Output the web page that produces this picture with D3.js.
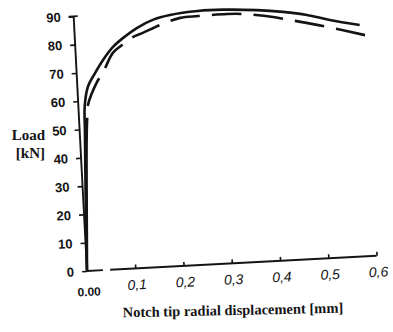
<!DOCTYPE html>
<html>
<head>
<meta charset="utf-8">
<script src="https://cdn.jsdelivr.net/npm/d3@7"></script>
<style>
  html, body { margin: 0; padding: 0; background: #fff; }
  svg { display: block; }
</style>
</head>
<body>
<svg id="chart" width="393" height="332"></svg>
<script>
// ---- data ----
const yTicks = [0, 10, 20, 30, 40, 50, 60, 70, 80, 90];
const yTickLabels = ["0", "10", "20", "30", "40", "50", "60", "70", "80", "90"];
const xTicks = [0.1, 0.2, 0.3, 0.4, 0.5, 0.6];
const xTickLabels = ["0,1", "0,2", "0,3", "0,4", "0,5", "0,6"];
const originLabel = "0.00";
const yTitle = ["Load", "[kN]"];
const xTitle = "Notch tip radial displacement [mm]";

const solidX  = [0, 0.001, 0.005, 0.011, 0.013, 0.022, 0.038, 0.056, 0.078, 0.100, 0.130, 0.163, 0.199, 0.257, 0.309, 0.380, 0.433, 0.482, 0.529, 0.590];
const solidY  = [0, 7, 25, 50, 58, 65, 69.6, 74.1, 78.5, 81.5, 84.8, 87.3, 88.7, 89.6, 89.6, 88.8, 87.7, 86.2, 84.0, 81.7];
const dashedX = [0, 0.002, 0.007, 0.013, 0.017, 0.020, 0.041, 0.055, 0.077, 0.097, 0.120, 0.141, 0.178, 0.220, 0.257, 0.317, 0.350, 0.412, 0.447, 0.514, 0.600];
const dashedY = [0, 7, 25, 45, 54, 58.5, 66.4, 69.8, 76.4, 79.0, 81.6, 82.9, 85.4, 87.5, 87.8, 88.0, 87.7, 86.1, 84.7, 82.0, 78.0];

// ---- layout ----
const svg = d3.select("#chart");
const origin = [87, 271];
const tilt = -3; // scanned page is slightly rotated
const x = d3.scaleLinear().domain([0, 0.6]).range([0, 290]);
const y = d3.scaleLinear().domain([0, 90]).range([0, -255]);
const ink = "#141414";

const g = svg.append("g")
  .attr("transform", `translate(${origin[0]},${origin[1]}) rotate(${tilt})`);

// y axis
const yAxis = d3.axisLeft(y).tickValues(yTicks).tickSize(5)
  .tickFormat((d, i) => yTickLabels[i]).tickPadding(8);
const ya = g.append("g").call(yAxis);
ya.select(".domain").remove();
ya.selectAll(".tick line").attr("stroke", ink).attr("stroke-width", 1.6);
ya.selectAll(".tick text")
  .attr("fill", ink)
  .style("font-family", "'Liberation Sans', Arial, sans-serif")
  .style("font-weight", "bold").style("font-size", "13px");
g.append("line").attr("x1", 0).attr("x2", 0).attr("y1", y(0)).attr("y2", y(90))
  .attr("stroke", ink).attr("stroke-width", 1.9);
g.append("line").attr("x1", -5).attr("x2", 4).attr("y1", y(90)).attr("y2", y(90))
  .attr("stroke", ink).attr("stroke-width", 1.6);

// x axis (two pieces, as in the scan)
const xAxisPieces = [[0, 0.033], [0.048, 0.6]];
xAxisPieces.forEach(p => {
  g.append("line").attr("x1", x(p[0])).attr("x2", x(p[1]))
    .attr("y1", 0).attr("y2", 0).attr("stroke", ink).attr("stroke-width", 1.9);
});
const xAxis = d3.axisTop(x).tickValues(xTicks).tickSize(4).tickFormat("");
const xa = g.append("g").call(xAxis);
xa.select(".domain").remove();
xa.selectAll(".tick line").attr("stroke", ink).attr("stroke-width", 1.6);

g.selectAll(".xlab").data(xTicks).enter().append("text")
  .attr("class", "xlab")
  .attr("x", d => x(d) + 1).attr("y", 21)
  .attr("text-anchor", "middle")
  .attr("fill", ink)
  .style("font-family", "'Liberation Sans', Arial, sans-serif")
  .style("font-style", "italic").style("font-size", "14px")
  .text((d, i) => xTickLabels[i]);

g.append("text").attr("x", 1).attr("y", 25).attr("text-anchor", "middle")
  .attr("fill", ink)
  .style("font-family", "'Liberation Sans', Arial, sans-serif")
  .style("font-weight", "bold").style("font-size", "12px")
  .text(originLabel);

// curves
const line = d3.line().x(d => x(d[0])).y(d => y(d[1])).curve(d3.curveCatmullRom.alpha(0.5));
const solid = solidX.map((v, i) => [v, solidY[i]]);
const dashed = dashedX.map((v, i) => [v, dashedY[i]]);

const dashedPath = g.append("path").datum(dashed).attr("d", line)
  .attr("fill", "none").attr("stroke", ink).attr("stroke-width", 2.6);
// the steep lower part of the dashed curve merges into one thick black stroke in the scan
const tmp = g.append("path").attr("d", line(dashed.slice(0, 5)));
const lead = tmp.node().getTotalLength();
tmp.remove();
const total = dashedPath.node().getTotalLength();
const gap = 12;
const rem = total - lead - gap;
const n = Math.max(1, Math.round((rem + gap) / 40));
const dash = (rem - (n - 1) * gap) / n;
const pattern = [lead, gap];
for (let i = 0; i < n; i++) pattern.push(dash, gap);
dashedPath.attr("stroke-dasharray", pattern.join(","));

g.append("path").datum(solid).attr("d", line)
  .attr("fill", "none").attr("stroke", ink).attr("stroke-width", 2.6);

// titles
const yt = svg.append("text").attr("text-anchor", "end")
  .attr("fill", ink)
  .style("font-family", "'Liberation Serif', 'Times New Roman', serif")
  .style("font-weight", "bold").style("font-size", "15px");
yt.selectAll("tspan").data(yTitle).enter().append("tspan")
  .attr("x", 45).attr("y", (d, i) => 140 + i * 18).text(d => d);

svg.append("text")
  .attr("transform", "translate(233,315) rotate(-1.2)")
  .attr("text-anchor", "middle")
  .attr("fill", ink)
  .style("font-family", "'Liberation Serif', 'Times New Roman', serif")
  .style("font-weight", "bold").style("font-size", "14.5px")
  .text(xTitle);
</script>
</body>
</html>
